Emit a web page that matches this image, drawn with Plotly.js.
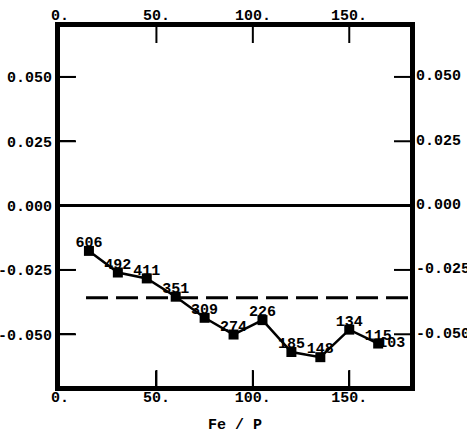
<!DOCTYPE html>
<html>
<head>
<meta charset="utf-8">
<script src="https://cdn.plot.ly/plotly-3.0.1.min.js"></script>
<style>html,body{margin:0;padding:0;background:#fff;}#chart{width:467px;height:436px;}</style>
</head>
<body>
<div id="chart"></div>
<script>
// Data
var fePRatio = [15, 30, 45, 60, 75, 90, 105, 120, 135, 150, 165];
var shiftValues = [-0.0176, -0.0260, -0.0283, -0.0354, -0.0436, -0.0501, -0.0445, -0.0569, -0.0589, -0.0482, -0.0536];
var pointLabels = ["606", "492", "411", "351", "309", "274", "226", "185", "148", "134", "115"];
var extraX = [165];
var extraY = [-0.0536];
var extraLabels = ["103"];
var refLineX = [13.5, 181.5];
var refLineY = [-0.0358, -0.0358];
var xTickVals = [0, 50, 100, 150];
var xTickText = ["0.", "50.", "100.", "150."];
var yTickVals = [0.05, 0.025, 0, -0.025, -0.05];
var yTickText = ["0.050", "0.025", "0.000", "-0.025", "-0.050"];
var xRange = [0, 181.5];
var yRange = [-0.0701, 0.0694];

var monoBold = {family: "Liberation Mono, Courier New, monospace", size: 15, color: "#000", weight: "bold"};

// Inward tick marks on all four sides, built from the tick arrays (length ~16 px of the 350x359 px plot)
var dy = (yRange[1] - yRange[0]) * 16 / 359;
var dx = (xRange[1] - xRange[0]) * 16 / 350;
var tickX = [], tickY = [];
xTickVals.filter(function (v) { return v > xRange[0]; }).forEach(function (v) {
  tickX.push(v, v, null, v, v, null);
  tickY.push(yRange[0], yRange[0] + dy, null, yRange[1] - dy, yRange[1], null);
});
yTickVals.forEach(function (v) {
  tickX.push(xRange[0], xRange[0] + dx, null, xRange[1] - dx, xRange[1], null);
  tickY.push(v, v, null, v, v, null);
});

var traces = [
  {
    x: refLineX, y: refLineY,
    mode: "lines", line: {color: "#000", width: 3, dash: "22px,8px"},
    hoverinfo: "skip"
  },
  {
    x: tickX, y: tickY, mode: "lines", connectgaps: false,
    line: {color: "#000", width: 2}, hoverinfo: "skip"
  },
  {
    x: fePRatio, y: shiftValues,
    mode: "lines+markers",
    line: {color: "#000", width: 2.5},
    marker: {symbol: "square", size: 10, color: "#000"}
  },
  {
    x: fePRatio, y: shiftValues, text: pointLabels,
    mode: "text", textposition: "top center",
    textfont: monoBold
  },
  {
    x: extraX, y: extraY, text: extraLabels,
    mode: "text", textposition: "middle right",
    textfont: monoBold
  }
];

// Top and right tick labels, placed on the axes' own scales
var topLabels = xTickVals.map(function (v, i) {
  return {x: v, xref: "x", y: 1, yref: "paper", yanchor: "bottom", yshift: 0,
    text: xTickText[i], showarrow: false, font: monoBold};
});
var rightLabels = yTickVals.map(function (v, i) {
  return {x: 1, xref: "paper", xanchor: "left", xshift: 4, y: v, yref: "y",
    text: yTickText[i], showarrow: false, font: monoBold};
});

var layout = {
  width: 467, height: 436, showlegend: false,
  margin: {l: 60, r: 57, t: 27, b: 50},
  paper_bgcolor: "#fff", plot_bgcolor: "#fff",
  font: monoBold,
  xaxis: {
    range: xRange, tickvals: xTickVals, ticktext: xTickText,
    showgrid: false, zeroline: false, showline: true, linewidth: 5, linecolor: "#000", mirror: true,
    ticks: "inside", ticklen: 15, tickwidth: 2, tickcolor: "#000", tickfont: monoBold,
    ticklabelstandoff: -7, fixedrange: true,
    title: {text: "Fe / P", font: monoBold, standoff: 14}
  },
  yaxis: {
    range: yRange, tickvals: yTickVals, ticktext: yTickText,
    showgrid: false, showline: true, linewidth: 5, linecolor: "#000", mirror: true,
    ticks: "inside", ticklen: 15, tickwidth: 2, tickcolor: "#000", tickfont: monoBold,
    zeroline: true, zerolinewidth: 3, zerolinecolor: "#000", fixedrange: true
  },
  annotations: topLabels.concat(rightLabels)
};

Plotly.newPlot("chart", traces, layout, {displayModeBar: false, staticPlot: true});
</script>
</body>
</html>
